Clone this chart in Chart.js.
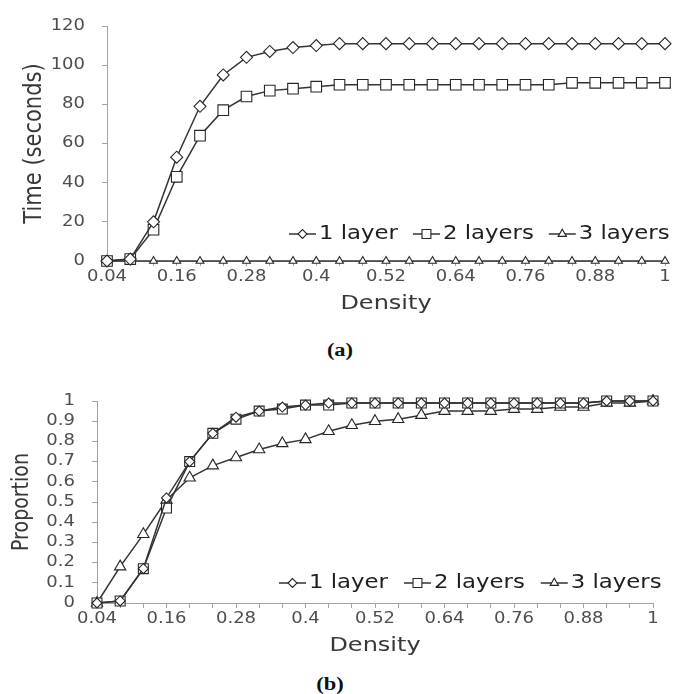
<!DOCTYPE html>
<html>
<head>
<meta charset="utf-8">
<script src="https://cdn.jsdelivr.net/npm/chart.js@4/dist/chart.umd.min.js"></script>
<style>
  html, body { margin: 0; padding: 0; background: #fff; }
  body { width: 675px; height: 694px; position: relative; overflow: hidden; }
  .panel { position: absolute; left: 0; width: 675px; }
  #wrapA { top: 0; height: 320px; }
  #wrapB { top: 375px; height: 287px; }
  .cap {
    position: absolute; width: 100px; text-align: center;
    font-family: "Liberation Serif", "DejaVu Serif", serif; font-weight: bold;
    font-size: 18px; line-height: 20px; color: #111;
    transform: scaleX(1.25);
  }
</style>
</head>
<body>
<div class="panel" id="wrapA"><canvas id="chartA"></canvas></div>
<div class="cap" style="left:290px; top:340px;">(a)</div>
<div class="panel" id="wrapB"><canvas id="chartB"></canvas></div>
<div class="cap" style="left:280px; top:674px;">(b)</div>

<script>
// Density values along the x axis
const density = [0.04, 0.08, 0.12, 0.16, 0.2, 0.24, 0.28, 0.32, 0.36, 0.4, 0.44, 0.48,
                 0.52, 0.56, 0.6, 0.64, 0.68, 0.72, 0.76, 0.8, 0.84, 0.88, 0.92, 0.96, 1];
// Only every third density is labelled
const densityTickLabels = ['0.04', '0.16', '0.28', '0.4', '0.52', '0.64', '0.76', '0.88', '1'];

const seriesNames = ['1 layer', '2 layers', '3 layers'];

// (a) Time in seconds
const time1 = [0, 1, 20, 53, 79, 95, 104, 107, 109, 110, 111, 111, 111, 111, 111, 111, 111, 111, 111, 111, 111, 111, 111, 111, 111];
const time2 = [0, 1, 16, 43, 64, 77, 84, 87, 88, 89, 90, 90, 90, 90, 90, 90, 90, 90, 90, 90, 91, 91, 91, 91, 91];
const time3 = [0, 0, 0, 0, 0, 0, 0, 0, 0, 0, 0, 0, 0, 0, 0, 0, 0, 0, 0, 0, 0, 0, 0, 0, 0];
const timeTickLabels = ['0', '20', '40', '60', '80', '100', '120'];

// (b) Proportion
const prop1 = [0, 0.01, 0.17, 0.52, 0.70, 0.84, 0.92, 0.95, 0.97, 0.98, 0.99, 0.99, 0.99, 0.99, 0.99, 0.99, 0.99, 0.99, 0.99, 0.99, 0.99, 0.99, 1, 1, 1];
const prop2 = [0, 0.01, 0.17, 0.47, 0.70, 0.84, 0.91, 0.95, 0.96, 0.98, 0.98, 0.99, 0.99, 0.99, 0.99, 0.99, 0.99, 0.99, 0.99, 0.99, 0.99, 0.99, 1, 1, 1];
const prop3 = [0, 0.18, 0.34, 0.51, 0.62, 0.68, 0.72, 0.76, 0.79, 0.81, 0.85, 0.88, 0.90, 0.91, 0.93, 0.95, 0.95, 0.95, 0.96, 0.96, 0.97, 0.97, 0.99, 0.99, 1];
const propTickLabels = ['0', '0.1', '0.2', '0.3', '0.4', '0.5', '0.6', '0.7', '0.8', '0.9', '1'];

const FONT = '"DejaVu Sans", sans-serif';
const TEXT_STRETCH = 1.2;
const LINE_COLOR = '#333333';
const AXIS_COLOR = '#a3a3a3';
const TICK_COLOR = '#4e4e4e';
const TITLE_COLOR = '#383838';

Chart.defaults.font.family = FONT;

// Renders canvas text slightly wider horizontally (screen space), as in the original figure
const wideText = {
  id: 'wideText',
  beforeInit(chart) {
    const ctx = chart.ctx;
    if (ctx.__wide) return;
    const fill = ctx.fillText.bind(ctx);
    ctx.fillText = function (text, x, y, maxWidth) {
      const m = ctx.getTransform();
      const p = m.transformPoint(new DOMPoint(x, y));
      ctx.setTransform(new DOMMatrix().translate(p.x, p.y).scale(TEXT_STRETCH, 1).translate(-p.x, -p.y).multiply(m));
      if (maxWidth === undefined) fill(text, x, y); else fill(text, x, y, maxWidth);
      ctx.setTransform(m);
    };
    ctx.__wide = true;
  }
};

// Legend drawn inside the plot area: line sample with marker, then label
const insetLegend = {
  id: 'insetLegend',
  afterDraw(chart, args, opts) {
    const ctx = chart.ctx;
    const drawPoint = Chart.helpers.drawPoint;
    ctx.save();
    ctx.font = opts.size + 'px ' + FONT;
    ctx.textBaseline = 'middle';
    ctx.textAlign = 'left';
    let x = opts.x;
    const y = opts.y;
    chart.data.datasets.forEach((ds, i) => {
      ctx.strokeStyle = ds.borderColor;
      ctx.lineWidth = ds.borderWidth;
      ctx.beginPath();
      ctx.moveTo(x, y);
      ctx.lineTo(x + opts.sample, y);
      ctx.stroke();
      ctx.fillStyle = '#ffffff';
      ctx.strokeStyle = ds.pointBorderColor;
      ctx.lineWidth = ds.pointBorderWidth;
      drawPoint(ctx, { pointStyle: ds.pointStyle, radius: opts.radii[i], rotation: 0, borderWidth: ds.pointBorderWidth },
                x + opts.sample / 2, y);
      ctx.fillStyle = opts.color;
      const tx = x + opts.sample + opts.textGap;
      ctx.fillText(ds.label, tx, y);
      x = tx + ctx.measureText(ds.label).width * TEXT_STRETCH + opts.itemGap;
    });
    ctx.restore();
  }
};

function makeDataset(label, data, style, radius) {
  return {
    label, data,
    borderColor: LINE_COLOR,
    borderWidth: 1.5,
    pointStyle: style,
    pointRadius: radius,
    pointBackgroundColor: '#ffffff',
    pointBorderColor: '#262626',
    pointBorderWidth: 1.1,
    tension: 0,
    clip: false
  };
}

function makeOptions(cfg) {
  return {
    responsive: true,
    maintainAspectRatio: false,
    animation: false,
    events: [],
    layout: { padding: cfg.padding },
    plugins: {
      legend: { display: false },
      tooltip: { enabled: false },
      insetLegend: cfg.legend
    },
    scales: {
      x: {
        type: 'category',
        offset: false,
        afterFit(scale) { scale.height = cfg.xHeight; },
        grid: { drawOnChartArea: false, drawTicks: true, tickLength: 5, color: AXIS_COLOR },
        border: { display: true, color: AXIS_COLOR, width: 1 },
        ticks: {
          autoSkip: false, maxRotation: 0, minRotation: 0, padding: 2,
          color: TICK_COLOR, font: { size: 15 },
          callback(value, index) {
            const s = String(density[index]);
            return densityTickLabels.includes(s) ? s : '';
          }
        },
        title: {
          display: true, text: 'Density', color: TITLE_COLOR,
          font: { size: 20 }, padding: { top: 0, bottom: 4 }
        }
      },
      y: {
        min: cfg.yMin, max: cfg.yMax,
        afterFit(scale) { scale.width = cfg.yWidth; },
        grid: { drawOnChartArea: false, drawTicks: true, tickLength: 5, color: AXIS_COLOR },
        border: { display: true, color: AXIS_COLOR, width: 1 },
        ticks: {
          stepSize: cfg.yStep, autoSkip: false, padding: 17, color: TICK_COLOR, font: { size: 15 },
          callback(value, index) { return cfg.yLabels[index]; }
        },
        title: {
          display: true, text: cfg.yTitle, color: TITLE_COLOR,
          font: { size: cfg.yTitleSize }, padding: { top: cfg.yTitlePad, bottom: 0 }
        }
      }
    }
  };
}

const labels = density.map(String);

new Chart(document.getElementById('chartA'), {
  type: 'line',
  data: {
    labels,
    datasets: [
      makeDataset(seriesNames[0], time1, 'rectRot', 6),
      makeDataset(seriesNames[1], time2, 'rect', 7.5),
      makeDataset(seriesNames[2], time3, 'triangle', 4.5)
    ]
  },
  options: makeOptions({
    padding: { left: 0, right: 10, top: 14, bottom: 0 },
    xHeight: 59, yWidth: 107,
    yMin: 0, yMax: 120, yStep: 20, yLabels: timeTickLabels,
    yTitle: 'Time (seconds)', yTitleSize: 21, yTitlePad: 22,
    legend: { x: 289, y: 234, size: 19, sample: 27, textGap: 3, itemGap: 15,
              radii: [4.5, 6.3, 4.8], color: '#1e1e1e' }
  }),
  plugins: [wideText, insetLegend]
});

new Chart(document.getElementById('chartB'), {
  type: 'line',
  data: {
    labels,
    datasets: [
      makeDataset(seriesNames[0], prop1, 'rectRot', 5),
      makeDataset(seriesNames[1], prop2, 'rect', 7),
      makeDataset(seriesNames[2], prop3, 'triangle', 6.5)
    ]
  },
  options: makeOptions({
    padding: { left: 0, right: 22, top: 20, bottom: 0 },
    xHeight: 59, yWidth: 97,
    yMin: 0, yMax: 1, yStep: 0.1, yLabels: propTickLabels,
    yTitle: 'Proportion', yTitleSize: 19, yTitlePad: 11,
    legend: { x: 279, y: 208, size: 19, sample: 27, textGap: 3, itemGap: 16,
              radii: [4.5, 6.3, 4.8], color: '#1e1e1e' }
  }),
  plugins: [wideText, insetLegend]
});
</script>
</body>
</html>
